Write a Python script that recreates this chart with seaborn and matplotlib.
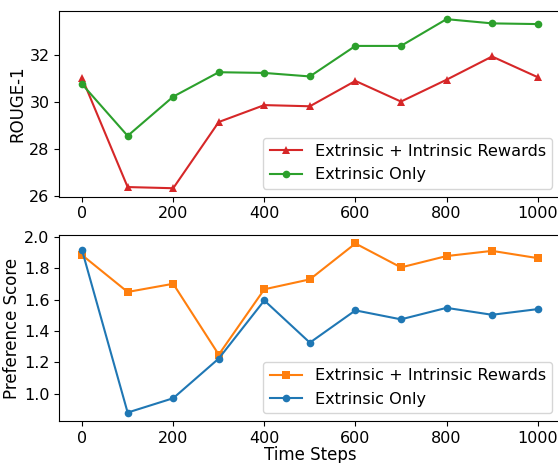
import matplotlib
matplotlib.use("Agg")
import matplotlib.pyplot as plt
import seaborn as sns
import pandas as pd

steps = [0, 100, 200, 300, 400, 500, 600, 700, 800, 900, 1000]

rouge_both = [31.0, 26.36, 26.31, 29.13, 29.85, 29.80, 30.88, 30.0, 30.93, 31.92, 31.04]
rouge_ext = [30.74, 28.54, 30.21, 31.25, 31.22, 31.07, 32.37, 32.37, 33.51, 33.33, 33.30]

pref_both = [1.882, 1.648, 1.70, 1.25, 1.665, 1.728, 1.956, 1.804, 1.876, 1.909, 1.863]
pref_ext = [1.912, 0.882, 0.973, 1.225, 1.594, 1.326, 1.531, 1.474, 1.547, 1.503, 1.539]

lab_both = 'Extrinsic + Intrinsic Rewards'
lab_ext = 'Extrinsic Only'

plt.rcParams['font.size'] = 11.5
plt.rcParams['axes.labelsize'] = 12

df_top = pd.DataFrame({
    'step': steps * 2,
    'value': rouge_both + rouge_ext,
    'method': [lab_both] * len(steps) + [lab_ext] * len(steps),
})
df_bot = pd.DataFrame({
    'step': steps * 2,
    'value': pref_both + pref_ext,
    'method': [lab_both] * len(steps) + [lab_ext] * len(steps),
})

fig = plt.figure(figsize=(5.58, 4.63), dpi=100)
ax1 = fig.add_axes([0.1063, 0.5752, 0.898, 0.4017])
ax2 = fig.add_axes([0.1063, 0.0907, 0.898, 0.4017])

sns.lineplot(data=df_top, x='step', y='value', hue='method', style='method',
             palette={lab_both: 'tab:red', lab_ext: 'tab:green'},
             markers={lab_both: '^', lab_ext: 'o'}, dashes=False,
             markersize=5.5, markeredgewidth=0, ax=ax1)
ax1.set_xlabel('')
ax1.set_ylabel('ROUGE-1', labelpad=2)
ax1.set_yticks([26, 28, 30, 32])
ax1.legend(loc='lower right', fontsize=11.6, handlelength=2.0)

sns.lineplot(data=df_bot, x='step', y='value', hue='method', style='method',
             palette={lab_both: 'tab:orange', lab_ext: 'tab:blue'},
             markers={lab_both: 's', lab_ext: 'o'}, dashes=False,
             markersize=5.5, markeredgewidth=0, ax=ax2)
ax2.set_xlabel('Time Steps', labelpad=0)
ax2.set_ylabel('Preference Score', labelpad=2)
ax2.set_yticks([1.0, 1.2, 1.4, 1.6, 1.8, 2.0])
ax2.legend(loc='lower right', fontsize=11.6, handlelength=2.0)

for ax in (ax1, ax2):
    ax.set_xticks([0, 200, 400, 600, 800, 1000])

fig.savefig('out.png', dpi=100)
